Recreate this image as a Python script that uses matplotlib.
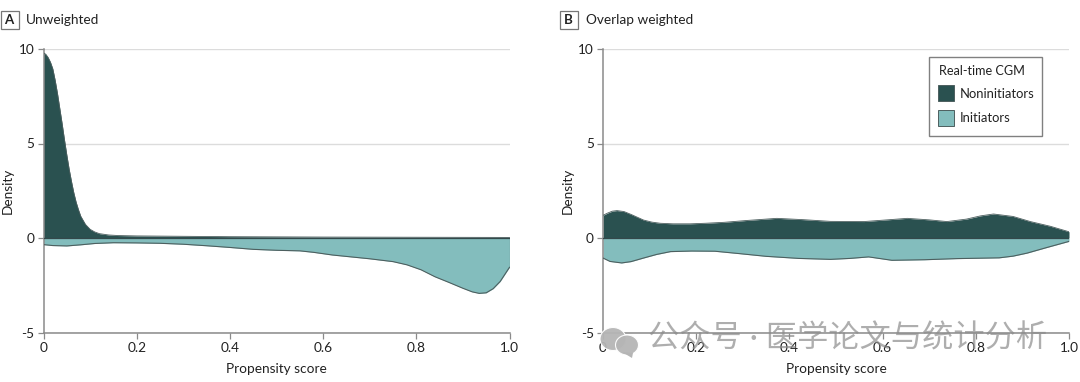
import matplotlib
matplotlib.use("Agg")
import matplotlib.pyplot as plt
from matplotlib.patches import Ellipse, Rectangle, Polygon

plt.rcParams['font.family'] = ['Lato', 'Noto Sans CJK SC', 'DejaVu Sans']

DARK = '#2A5150'
LIGHT = '#83BDBD'
EDGE = '#4D5F5F'
AXIS = '#8A8A8A'
GRID = '#DCDCDC'
TXT = '#222222'

x_non_a = [0, .005, .01, .015, .02, .025, .03, .035, .04, .045, .05, .055, .06, .065, .07, .075, .08, .09, .10, .11, .12, .14, .16, .20, .30, .40, .50, .60, .80, 1.0]
y_non_a = [9.8, 9.72, 9.55, 9.3, 8.95, 8.35, 7.65, 6.85, 6.05, 5.2, 4.4, 3.65, 3.0, 2.4, 1.9, 1.5, 1.15, .72, .46, .32, .23, .16, .13, .11, .09, .07, .06, .05, .04, .03]
x_ini_a = [0, .02, .05, .08, .11, .15, .20, .25, .30, .35, .40, .45, .50, .55, .58, .62, .66, .70, .75, .78, .81, .84, .87, .90, .92, .935, .95, .965, .98, 1.0]
y_ini_a = [-.35, -.4, -.42, -.36, -.29, -.25, -.26, -.28, -.33, -.41, -.5, -.6, -.65, -.68, -.76, -.9, -1.0, -1.1, -1.25, -1.42, -1.68, -2.05, -2.35, -2.66, -2.85, -2.93, -2.9, -2.68, -2.3, -1.55]
x_non_b = [0, .01, .02, .03, .045, .06, .087, .105, .123, .15, .187, .22, .26, .31, .373, .43, .488, .56, .61, .653, .70, .738, .78, .81, .838, .88, .917, .96, 1.0]
y_non_b = [1.2, 1.32, 1.42, 1.45, 1.4, 1.25, .95, .84, .78, .75, .75, .78, .83, .93, 1.04, .97, .88, .87, .96, 1.04, .96, .87, 1.0, 1.17, 1.27, 1.14, .87, .62, .33]
x_ini_b = [0, .015, .04, .06, .087, .115, .145, .19, .24, .29, .35, .42, .488, .53, .57, .62, .69, .76, .85, .88, .91, .95, 1.0]
y_ini_b = [-1.06, -1.24, -1.32, -1.25, -1.06, -.87, -.72, -.69, -.7, -.82, -.97, -1.08, -1.13, -1.08, -1.0, -1.18, -1.15, -1.09, -1.05, -.96, -.8, -.52, -.18]

x_ticks = [0, .2, .4, .6, .8, 1.0]
x_labels = ['0', '0.2', '0.4', '0.6', '0.8', '1.0']
y_ticks = [-5, 0, 5, 10]
y_labels = ['-5', '0', '5', '10']
panels = [
    ('A', 'Unweighted', x_non_a, y_non_a, x_ini_a, y_ini_a),
    ('B', 'Overlap weighted', x_non_b, y_non_b, x_ini_b, y_ini_b),
]
lefts = [43.5, 603.0]
W, H = 1080, 382

fig = plt.figure(figsize=(W / 100, H / 100), dpi=100)
for left, (tag, title, xn, yn, xi, yi) in zip(lefts, panels):
    ax = fig.add_axes([left / W, 1 - 332.5 / H, 466 / W, (332.5 - 49) / H])
    ax.set_xlim(0, 1)
    ax.set_ylim(-5, 10)
    for s in ('top', 'right'):
        ax.spines[s].set_visible(False)
    for s in ('left', 'bottom'):
        ax.spines[s].set_color(AXIS)
        ax.spines[s].set_linewidth(1.1)
    ax.set_axisbelow(True)
    ax.yaxis.grid(True, color=GRID, lw=1)
    ax.fill_between(xn, 0, yn, color=DARK, lw=0, zorder=2)
    ax.plot(xn, yn, color=EDGE, lw=.6, zorder=3)
    ax.fill_between(xi, 0, yi, color=LIGHT, lw=0, zorder=2)
    ax.plot(xi, yi, color=EDGE, lw=.8, zorder=3)
    ax.plot([1, 1], [yi[-1], yn[-1]], color=EDGE, lw=.8, zorder=3)
    ax.axhline(0, color='#33484A', lw=.9, zorder=4)
    ax.set_xticks(x_ticks, x_labels)
    ax.set_yticks(y_ticks, y_labels)
    ax.tick_params(axis='both', length=4, width=.9, color=AXIS, labelsize=9.8,
                   labelcolor=TXT, pad=2.5)
    ax.set_xlabel('Propensity score', fontsize=9.8, color=TXT, labelpad=7)
    ax.set_ylabel('Density', fontsize=9.8, color=TXT, labelpad=3.5)
    box_l = left - 43.5
    fig.patches.append(Rectangle((box_l / W + .0005, 1 - 28.5 / H), 18 / W, 18 / H,
                                 transform=fig.transFigure, fc='white', ec='#777777', lw=.9))
    fig.text((box_l + 9) / W, 1 - 20 / H, tag, fontsize=9.5, fontweight='bold',
             color=TXT, ha='center', va='center')
    fig.text((box_l + 26) / W, 1 - 20 / H, title, fontsize=9.8, color=TXT,
             ha='left', va='center')

# legend
fig.patches.append(Rectangle((929 / W, 1 - 135.5 / H), 113 / W, 78.5 / H,
                             transform=fig.transFigure, fc='white', ec='#808080',
                             lw=1, zorder=5))
fig.text(939 / W, 1 - 71 / H, 'Real-time CGM', fontsize=9.1, color=TXT, va='center', zorder=6)
for ytop, col, lab in [(85, DARK, 'Noninitiators'), (110, LIGHT, 'Initiators')]:
    fig.patches.append(Rectangle((938 / W, 1 - (ytop + 16) / H), 16 / W, 16 / H,
                                 transform=fig.transFigure, fc=col, ec=EDGE, lw=.7, zorder=6))
    fig.text(959.5 / W, 1 - (ytop + 8.5) / H, lab, fontsize=9.4, color=TXT, va='center', zorder=6)

# watermark
fig.text(648 / W, 1 - 338 / H, '公众号 · 医学论文与统计分析', fontsize=22.5, color='#8C8C8C',
         alpha=.7, va='center', ha='left', zorder=8)
for cx, cy, rx, ry in [(613, 339, 13, 11.5), (627, 345, 11.5, 10)]:
    fig.patches.append(Ellipse((cx / W, 1 - cy / H), 2 * rx / W, 2 * ry / H,
                               transform=fig.transFigure, fc='#B5B5B5', ec='white',
                               lw=.8, alpha=.95, zorder=8))
fig.patches.append(Polygon([(622 / W, 1 - 352 / H), (633 / W, 1 - 353 / H), (632 / W, 1 - 358 / H)],
                           transform=fig.transFigure, fc='#B5B5B5', ec='none', zorder=8))

fig.savefig('out.png', dpi=100)
